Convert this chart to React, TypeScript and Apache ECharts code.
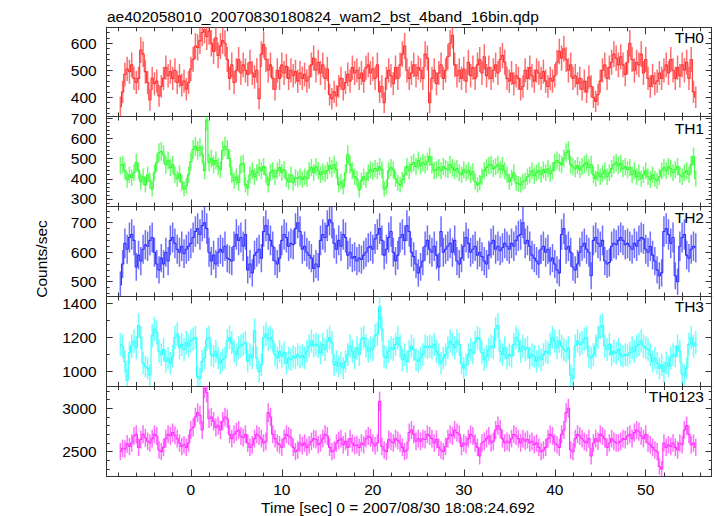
import React, { useEffect, useRef } from "react";
import * as echarts from "echarts";

const TITLE = "ae402058010_20070830180824_wam2_bst_4band_16bin.qdp";
const X_TITLE = "Time [sec] 0 = 2007/08/30 18:08:24.692";
const Y_TITLE = "Counts/sec";
const BAND_NAMES = ["TH0", "TH1", "TH2", "TH3", "TH0123"];
const BIN_START = -7.75; // centre of first bin (s)
const BIN_WIDTH = 0.25; // 16 x 1/64 s

const th0 = [
  365, 420, 485, 505, 495, 520, 470, 455, 470, 575, 560, 495, 455, 390, 470, 450,
  460, 405, 440, 470, 510, 480, 495, 470, 500, 455, 480, 445, 460, 430, 455, 505,
  540, 590, 585, 610, 640, 650, 625, 645, 600, 570, 620, 555, 590, 610, 600, 540,
  470, 520, 455, 500, 540, 490, 520, 500, 485, 530, 490, 475, 500, 395, 560, 595,
  540, 500, 520, 470, 430, 500, 470, 520, 490, 515, 470, 500, 480, 495, 460, 490,
  470, 485, 460, 475, 520, 545, 500, 530, 490, 520, 470, 505, 410, 395, 420, 405,
  440, 470, 430, 455, 485, 460, 510, 490, 500, 470, 490, 460, 510, 520, 490, 505,
  470, 520, 420, 440, 380, 470, 500, 480, 450, 510, 470, 520, 560, 590, 500, 470,
  490, 520, 480, 510, 500, 470, 560, 545, 380, 470, 500, 450, 490, 520, 470, 500,
  550, 600, 630, 520, 480, 500, 470, 505, 460, 530, 480, 510, 470, 520, 540, 490,
  550, 480, 510, 470, 500, 520, 490, 540, 555, 530, 470, 460, 490, 450, 480, 470,
  430, 440, 500, 470, 510, 480, 460, 500, 490, 470, 495, 460, 440, 470, 460, 480,
  530, 570, 545, 580, 540, 500, 520, 470, 480, 450, 470, 430, 460, 420, 475, 440,
  400, 385, 410, 460, 500, 520, 470, 510, 530, 560, 545, 520, 550, 520, 485, 530,
  600, 540, 500, 530, 520, 560, 490, 540, 470, 440, 480, 450, 460, 490, 470, 500,
  520, 490, 540, 500, 470, 510, 480, 520, 500, 530, 470, 540, 420, 400,
];

const th1 = [
  465, 470, 440, 395, 420, 405, 430, 480, 440, 385, 410, 370, 420, 390, 350, 430,
  480, 530, 535, 520, 470, 490, 455, 470, 420, 400, 425, 380, 350, 365, 420, 485,
  545, 560, 540, 555, 520, 440, 690, 480, 500, 470, 490, 460, 445, 540, 560, 545,
  500, 420, 390, 410, 380, 470, 475, 370, 355, 420, 440, 410, 430, 455, 440, 460,
  420, 370, 430, 440, 410, 440, 455, 430, 445, 400, 385, 420, 380, 405, 400, 410,
  395, 410, 400, 440, 455, 430, 460, 440, 420, 435, 425, 440, 465, 450, 470, 445,
  370, 385, 360, 430, 520, 470, 440, 410, 400, 345, 390, 410, 395, 430, 445, 435,
  450, 440, 460, 445, 350, 360, 440, 455, 445, 400, 380, 370, 395, 420, 460, 440,
  470, 480, 460, 490, 465, 480, 470, 485, 510, 470, 440, 445, 455, 440, 460, 450,
  445, 470, 455, 440, 450, 430, 420, 445, 430, 440, 420, 435, 385, 370, 380, 410,
  440, 455, 465, 470, 450, 460, 470, 445, 465, 440, 420, 385, 405, 430, 380, 375,
  370, 385, 390, 410, 420, 440, 415, 430, 440, 420, 445, 430, 450, 425, 440, 480,
  490, 480, 470, 500, 530, 540, 470, 460, 450, 465, 445, 460, 470, 480, 455, 470,
  420, 400, 430, 410, 425, 440, 410, 430, 450, 470, 480, 465, 475, 450, 460, 445,
  455, 420, 440, 410, 430, 400, 420, 440, 410, 395, 420, 400, 390, 410, 440, 455,
  440, 460, 450, 430, 445, 460, 420, 410, 430, 440, 420, 470, 510, 400,
];

const th2 = [
  490, 560, 630, 610, 650, 660, 640, 550, 590, 570, 610, 625, 620, 640, 650, 600,
  560, 540, 580, 560, 600, 570, 640, 650, 630, 610, 600, 620, 595, 610, 620, 630,
  650, 670, 680, 660, 690, 700, 680, 600, 570, 590, 560, 600, 610, 600, 620, 580,
  575, 570, 620, 660, 640, 650, 620, 660, 540, 560, 530, 590, 600, 610, 580, 670,
  690, 660, 640, 620, 570, 560, 580, 640, 660, 650, 620, 630, 625, 680, 700, 670,
  610, 620, 600, 590, 580, 545, 560, 550, 640, 660, 650, 690, 710, 700, 630, 610,
  640, 620, 660, 650, 590, 600, 580, 585, 570, 580, 575, 590, 600, 615, 620, 610,
  645, 660, 680, 640, 590, 610, 650, 670, 600, 570, 590, 650, 660, 640, 690, 670,
  600, 585, 560, 530, 550, 570, 620, 640, 610, 600, 620, 590, 550, 670, 600, 610,
  620, 630, 600, 640, 570, 560, 580, 620, 650, 630, 600, 610, 620, 590, 600, 585,
  570, 560, 590, 630, 640, 610, 620, 605, 615, 630, 620, 610, 630, 620, 640, 655,
  660, 700, 630, 640, 620, 590, 580, 570, 560, 610, 620, 600, 610, 570, 580, 560,
  540, 530, 660, 680, 610, 620, 600, 550, 540, 560, 600, 620, 630, 610, 600, 520,
  640, 650, 630, 620, 640, 570, 560, 565, 620, 630, 625, 640, 650, 640, 625, 630,
  620, 610, 630, 620, 640, 650, 645, 610, 600, 620, 590, 570, 540, 520, 530, 670,
  680, 660, 630, 650, 520, 500, 620, 650, 660, 590, 580, 610, 620, 615,
];

const th3 = [
  1160, 1150, 1060, 950, 1110, 1150, 1180, 1140, 1270, 1200, 1050, 1030, 1020, 980, 1210, 1250,
  1230, 1120, 1100, 1130, 1060, 1080, 1050, 1090, 1200, 1220, 1140, 1160, 1130, 1170, 1150, 1180,
  1190, 1200, 970, 960, 1060, 1080, 1190, 1200, 1100, 1090, 1120, 1080, 1050, 1070, 1080, 1180,
  1200, 1170, 1120, 1100, 1140, 1150, 1160, 1170, 1060, 1100, 1080, 1240, 1080, 1000, 1040, 1200,
  1220, 1190, 1200, 1180, 1100, 1080, 1120, 1090, 1110, 1050, 1080, 1070, 1090, 1080, 1100, 1085,
  1095, 1080, 1120, 1150, 1180, 1150, 1160, 1150, 1110, 1160, 1130, 1180, 1200, 1170, 1040, 1060,
  1030, 1050, 1020, 1060, 1100, 1150, 1120, 1080, 1140, 1100, 1190, 1200, 1150, 1120, 1140, 1130,
  1210, 1220, 1380, 1250, 1090, 1080, 1120, 1140, 1130, 1160, 1200, 1150, 1070, 1100, 1060, 1120,
  1150, 1130, 1070, 1060, 1080, 1100, 1150, 1140, 1150, 1140, 1160, 1120, 1100, 1050, 1080, 1100,
  1140, 1180, 1160, 1140, 1180, 1160, 1050, 1020, 1040, 1100, 1130, 1110, 1170, 1200, 1190, 1110,
  1070, 1090, 1130, 1150, 1140, 1250, 1270, 1120, 1100, 1140, 1080, 1100, 1090, 1160, 1200, 1180,
  1120, 1150, 1130, 1140, 1080, 1100, 1090, 1060, 1090, 1070, 1100, 1120, 1110, 1160, 1200, 1180,
  1140, 1180, 1150, 1130, 1120, 1140, 980, 960, 1150, 1180, 1160, 1170, 1190, 1200, 1090, 1080,
  1100, 1150, 1200, 1260, 1270, 1150, 1130, 1160, 1100, 1120, 1110, 1130, 1100, 1090, 1100, 1095,
  1110, 1140, 1120, 1150, 1160, 1180, 1150, 1140, 1130, 1100, 1060, 1080, 1050, 1020, 1040, 1000,
  1050, 1030, 1080, 1100, 1090, 1150, 1120, 990, 980, 1020, 1160, 1200, 1150, 1170,
];

const th0123 = [
  2500, 2540, 2530, 2590, 2560, 2600, 2680, 2700, 2550, 2640, 2700, 2660, 2620, 2600, 2650, 2700,
  2680, 2520, 2500, 2550, 2650, 2700, 2680, 2720, 2690, 2650, 2600, 2560, 2580, 2550, 2600, 2750,
  2780, 2900, 2950, 2920, 2750, 3230, 3180, 2880, 2900, 2850, 2780, 2800, 2750, 2850, 2900, 2880,
  2700, 2650, 2700, 2730, 2750, 2680, 2660, 2700, 2600, 2550, 2580, 2650, 2700, 2680, 2650, 2600,
  2620, 2950, 2900, 2700, 2650, 2600, 2580, 2550, 2650, 2700, 2680, 2660, 2550, 2500, 2520, 2600,
  2570, 2600, 2550, 2580, 2620, 2650, 2640, 2580, 2600, 2650, 2700, 2680, 2550, 2500, 2520, 2600,
  2630, 2650, 2580, 2620, 2550, 2650, 2600, 2570, 2580, 2550, 2600, 2580, 2650, 2680, 2660, 2600,
  2570, 2600, 3080, 2560, 2520, 2500, 2640, 2620, 2600, 2650, 2630, 2600, 2550, 2500, 2520, 2720,
  2750, 2700, 2620, 2650, 2620, 2650, 2640, 2700, 2680, 2650, 2600, 2640, 2550, 2520, 2500, 2560,
  2650, 2700, 2680, 2750, 2720, 2700, 2560, 2600, 2580, 2650, 2700, 2680, 2600, 2550, 2450, 2600,
  2620, 2650, 2680, 2600, 2620, 2750, 2800, 2760, 2650, 2600, 2620, 2600, 2650, 2700, 2680, 2650,
  2600, 2650, 2620, 2640, 2600, 2620, 2580, 2600, 2550, 2500, 2520, 2550, 2650, 2700, 2680, 2600,
  2580, 2550, 2700, 2750, 2950, 3000, 2520, 2500, 2650, 2700, 2680, 2650, 2620, 2600, 2650, 2450,
  2600, 2650, 2620, 2700, 2680, 2650, 2550, 2600, 2650, 2620, 2600, 2600, 2620, 2650, 2640, 2680,
  2700, 2650, 2720, 2750, 2730, 2680, 2650, 2700, 2600, 2580, 2550, 2520, 2500, 2330, 2300, 2600,
  2550, 2580, 2560, 2600, 2550, 2520, 2600, 2580, 2750, 2800, 2700, 2580, 2600, 2550,
];

const BANDS = [th0, th1, th2, th3, th0123];
const COLORS = ["#ff3030", "#30ff30", "#3030ff", "#30ffff", "#ff30ff"];

const X_MIN = -9.25;
const X_MAX = 57.25;
const Y_MIN = [328.9, 262.9, 449.8, 916.4, 2214];
const Y_MAX = [659.3, 707.8, 754.9, 1439.8, 3257];
// splitNumbers chosen so that ECharts' nice interval gives the qdp ticks
const Y_MAJOR_SPLIT = [3, 4, 3, 3, 2];
const Y_MINOR_SPLIT = [16, 24, 16, 5, 8];

const GRID_TOP = [27.3, 116.5, 206.5, 296.5, 386];
const GRID_H = [89.2, 90, 90, 89.5, 90.5];
const LABEL_Y = [37, 128, 217, 306, 396];

const FONT = "'Liberation Sans', Arial, Helvetica, sans-serif";
const FONT_SIZE = 15.5;
const FRAME = "#333333";

export default function App() {
  const ref = useRef<HTMLDivElement>(null);

  useEffect(() => {
    if (!ref.current) return;
    const chart = echarts.init(ref.current, null, { renderer: "svg" });

    const grid: any[] = [];
    const xAxis: any[] = [];
    const yAxis: any[] = [];
    const series: any[] = [];
    const plain = (v: number) => String(Math.round(v * 100) / 100);

    for (let g = 0; g < 5; g++) {
      grid.push({
        left: 106.7,
        width: 605,
        top: GRID_TOP[g],
        height: GRID_H[g],
        outerBoundsMode: "none",
        containLabel: false,
      });
      const xBase = (pos: string, split: number, major: boolean, line: boolean, labels: boolean) => ({
        type: "value",
        gridIndex: g,
        min: X_MIN,
        max: X_MAX,
        splitNumber: split,
        position: pos,
        axisLine: { show: line, onZero: false, lineStyle: { color: FRAME, width: 1 } },
        axisTick: { show: true, inside: true, length: major ? 7 : 4, lineStyle: { color: FRAME, width: 1 } },
        axisLabel: {
          show: labels,
          showMinLabel: false,
          showMaxLabel: false,
          fontSize: FONT_SIZE,
          fontFamily: FONT,
          color: "#000",
          margin: 5,
          formatter: plain,
        },
        splitLine: { show: false },
      });
      xAxis.push(xBase("bottom", 6, true, true, g === 4));
      xAxis.push(xBase("bottom", 33, false, false, false));
      xAxis.push(xBase("top", 6, true, true, false));
      xAxis.push(xBase("top", 33, false, false, false));

      const yBase = (pos: string, split: number, major: boolean, line: boolean, labels: boolean) => ({
        type: "value",
        gridIndex: g,
        min: Y_MIN[g],
        max: Y_MAX[g],
        splitNumber: split,
        position: pos,
        axisLine: { show: line, onZero: false, lineStyle: { color: FRAME, width: 1 } },
        axisTick: { show: true, inside: true, length: major ? 6 : 3, lineStyle: { color: FRAME, width: 1 } },
        axisLabel: {
          show: labels,
          showMinLabel: false,
          showMaxLabel: false,
          fontSize: FONT_SIZE,
          fontFamily: FONT,
          color: "#000",
          margin: 10,
          formatter: plain,
        },
        splitLine: { show: false },
      });
      yAxis.push(yBase("left", Y_MAJOR_SPLIT[g], true, true, true));
      yAxis.push(yBase("left", Y_MINOR_SPLIT[g], false, false, false));
      yAxis.push(yBase("right", Y_MAJOR_SPLIT[g], true, true, false));
      yAxis.push(yBase("right", Y_MINOR_SPLIT[g], false, false, false));

      const vals = BANDS[g];
      const color = COLORS[g];
      const stepData = vals.map((v, i) => [BIN_START + i * BIN_WIDTH, v]);
      // Poisson error of a rate measured in one bin
      const errData = vals.map((v, i) => [
        BIN_START + i * BIN_WIDTH,
        v,
        Math.sqrt(v * BIN_WIDTH) / BIN_WIDTH,
      ]);

      series.push({
        type: "custom",
        xAxisIndex: 4 * g,
        yAxisIndex: 4 * g,
        data: errData,
        clip: true,
        silent: true,
        encode: { x: 0, y: 1 },
        renderItem: (params: any, api: any) => {
          const t = api.value(0);
          const v = api.value(1);
          const e = api.value(2);
          const lo = api.coord([t, v - e]);
          const hi = api.coord([t, v + e]);
          return {
            type: "line",
            shape: { x1: lo[0], y1: lo[1], x2: hi[0], y2: hi[1] },
            style: { stroke: color, lineWidth: 1.5, opacity: 0.7 },
          };
        },
      });
      series.push({
        type: "line",
        xAxisIndex: 4 * g,
        yAxisIndex: 4 * g,
        data: stepData,
        step: "middle",
        symbol: "none",
        showSymbol: false,
        clip: true,
        silent: true,
        lineStyle: { color, width: 1.1 },
        itemStyle: { color },
      });
    }

    const graphic: any[] = [
      {
        type: "text",
        left: 107,
        top: 8,
        style: { text: TITLE, fontSize: FONT_SIZE, fontFamily: FONT, fill: "#000" },
      },
      {
        type: "text",
        x: 398,
        y: 507,
        style: {
          text: X_TITLE,
          fontSize: FONT_SIZE,
          fontFamily: FONT,
          fill: "#000",
          align: "center",
          verticalAlign: "middle",
        },
      },
      {
        type: "text",
        x: 41,
        y: 259,
        rotation: Math.PI / 2,
        style: {
          text: Y_TITLE,
          fontSize: FONT_SIZE,
          fontFamily: FONT,
          fill: "#000",
          align: "center",
          verticalAlign: "middle",
        },
      },
    ];
    BAND_NAMES.forEach((name, g) => {
      graphic.push({
        type: "text",
        x: 704,
        y: LABEL_Y[g],
        z: 100,
        style: {
          text: name,
          fontSize: FONT_SIZE,
          fontFamily: FONT,
          fill: "#000",
          align: "right",
          verticalAlign: "middle",
        },
      });
    });

    chart.setOption({
      animation: false,
      backgroundColor: "#ffffff",
      grid,
      xAxis,
      yAxis,
      series,
      graphic,
    });

    return () => chart.dispose();
  }, []);

  return (
    <div
      ref={ref}
      style={{ position: "fixed", left: 0, top: 0, width: 717, height: 516 }}
    />
  );
}
